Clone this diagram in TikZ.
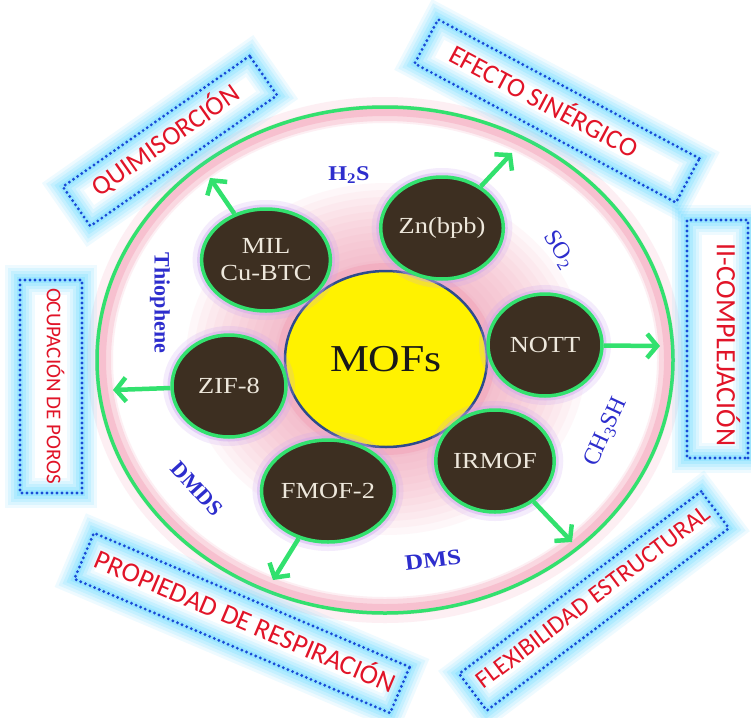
\documentclass[tikz,border=0pt]{standalone}
\usepackage{fontspec}
\setmainfont{Liberation Serif}
\newfontfamily\calib{Carlito}
\usetikzlibrary{shapes.geometric,arrows.meta}
\definecolor{greenC}{RGB}{50,225,110}
\definecolor{brownC}{RGB}{61,47,33}
\definecolor{creamC}{RGB}{238,232,220}
\definecolor{yellowC}{RGB}{255,242,0}
\definecolor{mofB}{RGB}{45,75,140}
\definecolor{pinkG}{RGB}{242,150,175}
\definecolor{purpleG}{RGB}{200,160,240}
\definecolor{cyanG}{RGB}{90,215,255}
\definecolor{dotBlue}{RGB}{25,75,215}
\definecolor{redT}{RGB}{225,20,40}
\definecolor{blueL}{RGB}{45,45,205}
\newcommand{\hstr}[1]{\scalebox{1.15}[1]{#1}}
\begin{document}
\begin{tikzpicture}[x=1pt,y=-1pt,
  mof/.style={ellipse, minimum width=114pt, minimum height=102pt, inner sep=0pt,
    fill=brownC, draw=greenC, line width=3.5pt, text=creamC,
    font=\fontsize{23}{27}\selectfont, align=center,
    preaction={draw=purpleG, line width=18pt, draw opacity=0.2, fill=none},
    preaction={draw=purpleG, line width=9pt, draw opacity=0.4, fill=none}},
  gbox/.style={rectangle, inner sep=0pt,
    preaction={draw=cyanG, line width=30pt, draw opacity=0.10, solid},
    preaction={draw=cyanG, line width=24pt, draw opacity=0.13, solid},
    preaction={draw=cyanG, line width=18pt, draw opacity=0.16, solid},
    preaction={draw=cyanG, line width=12pt, draw opacity=0.2, solid},
    preaction={draw=cyanG, line width=6pt, draw opacity=0.25, solid},
    draw=dotBlue, line width=3.2pt, dash pattern=on 0pt off 5pt, line cap=round},
  redt/.style={text=redT, inner sep=0pt, text height=0.64em, text depth=0pt},
  lbl/.style={text=blueL, inner sep=0pt, font=\bfseries\fontsize{22}{26}\selectfont},
  lblr/.style={text=blueL, inner sep=0pt, font=\fontsize{24}{28}\selectfont},
  arr/.style={draw=greenC, line width=4.5pt, -{Straight Barb[length=10pt,width=24pt]}}
]
\fill[white] (0,0) rectangle (751,717);
\useasboundingbox (0,0) rectangle (751,717);

% outer ring with pink glow
\draw[pinkG, line width=26pt, opacity=0.15] (385,360) ellipse [x radius=285, y radius=250];
\draw[pinkG, line width=16pt, opacity=0.25] (385,360) ellipse [x radius=282, y radius=247];
\draw[pinkG, line width=8pt, opacity=0.35] (385,360) ellipse [x radius=283, y radius=248];
\node[ellipse, draw=greenC, line width=3.5pt, minimum width=576pt, minimum height=506pt, inner sep=0pt] (outer) at (385,360) {};

% central pink glow
\foreach \r in {200,192,184,176,168,160,152,144,136,128,120,112}{
  \fill[pinkG, opacity=0.07] (386,359) ellipse [x radius=\r, y radius=0.88*\r];
}

% boxes
\node[gbox, rotate=35, minimum width=228pt, minimum height=48pt] (quimB) at (170,141) {};
\node[redt, rotate=35, font=\calib\fontsize{27}{32}\selectfont] (quim) at (169,145) {QUIMISORCIÓN};

\node[gbox, rotate=-28, minimum width=296pt, minimum height=50pt] (efecB) at (557,111) {};
\node[redt, rotate=-28, font=\calib\fontsize{27}{32}\selectfont] (efec) at (541,107) {EFECTO SINÉRGICO};

\node[gbox, rotate=-90, minimum width=238pt, minimum height=61pt] (complB) at (717.5,339) {};
\node[redt, rotate=-90, font=\calib\fontsize{28}{33}\selectfont] (compl) at (720,345) {II-COMPLEJACIÓN};

\node[gbox, rotate=-90, minimum width=213pt, minimum height=62pt] (ocupB) at (51,386.5) {};
\node[redt, rotate=-90, font=\calib\fontsize{21}{25}\selectfont] (ocup) at (50,386) {OCUPACIÓN DE POROS};

\node[gbox, rotate=-23, minimum width=343pt, minimum height=50pt] (propB) at (242,623) {};
\node[redt, rotate=-23, font=\calib\fontsize{27.5}{33}\selectfont] (prop) at (243,627) {PROPIEDAD DE RESPIRACIÓN};

\node[gbox, rotate=37, minimum width=303pt, minimum height=46pt] (flexB) at (594,601) {};
\node[redt, rotate=37, font=\calib\fontsize{25}{30}\selectfont] (flex) at (596,601) {FLEXIBILIDAD ESTRUCTURAL};

% centre
\node[ellipse, minimum width=202pt, minimum height=176pt, inner sep=0pt, fill=yellowC,
  draw=mofB, line width=2.5pt, font=\fontsize{38}{44}\selectfont, text=black!90,
  preaction={draw=pinkG, line width=16pt, draw opacity=0.35, fill=none}] (mofs) at (386,359) {\hstr{MOFs}};

% satellites
\node[mof] (mil) at (266,260) {\hstr{MIL}\\\hstr{Cu-BTC}};
\node[mof] (zn) at (442,228) {\hstr{Zn(bpb)}};
\node[mof] (nott) at (545,345) {\hstr{NOTT}};
\node[mof] (zif) at (229,386) {\hstr{ZIF-8}};
\node[mof] (fmof) at (328,491) {\hstr{FMOF-2}};
\node[mof] (irmof) at (495,461) {\hstr{IRMOF}};

% arrow ends
\coordinate (milT) at (210,178);
\coordinate (znT) at (512,153);
\coordinate (nottT) at (660,346);
\coordinate (zifT) at (113,390);
\coordinate (fmofT) at (273,580);
\coordinate (irmofT) at (572,542);
\draw[arr] (mil) -- (milT);
\draw[arr] (zn) -- (znT);
\draw[arr] (nott) -- (nottT);
\draw[arr] (zif) -- (zifT);
\draw[arr] (fmof) -- (fmofT);
\draw[arr] (irmof) -- (irmofT);

% gas labels
\node[lbl, font=\bfseries\fontsize{21}{25}\selectfont] (h2s) at (349,175) {\hstr{H\textsubscript{2}S}};
\node[lblr, rotate=-58] (so2) at (559,250) {SO\textsubscript{2}};
\node[lbl, rotate=-90] (thio) at (160,303) {Thiophene};
\node[lblr, rotate=65] (ch3sh) at (606,432) {CH\textsubscript{3}SH};
\node[lbl, rotate=7] (dms) at (433,560) {\hstr{DMS}};
\node[lbl, rotate=-48] (dmds) at (197,489) {DMDS};
\end{tikzpicture}
\end{document}
